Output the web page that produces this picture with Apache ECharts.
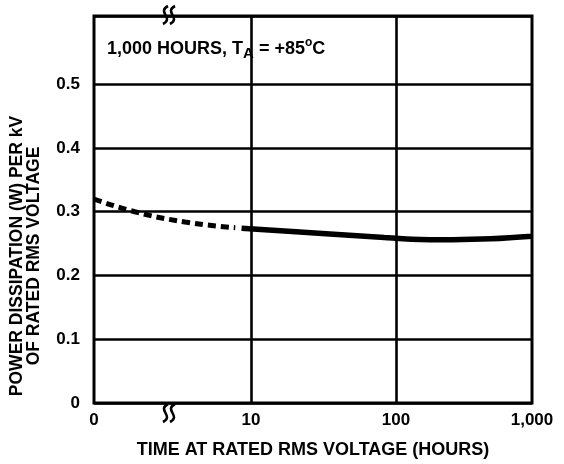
<!DOCTYPE html>
<html>
<head>
<meta charset="utf-8">
<script src="https://cdn.jsdelivr.net/npm/echarts@6/dist/echarts.min.js"></script>
<style>html,body{margin:0;padding:0;background:#fff}#c{width:564px;height:464px}</style>
</head>
<body>
<div id="c"></div>
<script>
// ---- data ----
var xTickHours = [0, 10, 100, 1000];
var xTickLabels = ['0', '10', '100', '1,000'];
var dashHours = [0, 2.6, 5.8, 9.0];
var dashValues = [0.320, 0.300, 0.284, 0.275];
var solidHours = [9.4, 31, 83, 130, 260, 500, 1000];
var solidValues = [0.274, 0.266, 0.2595, 0.257, 0.2562, 0.2575, 0.2615];

// broken axis: 0..10 h linear segment, then two log decades (widths as drawn)
var SEG = [1.117, 1.032, 0.968];
function pos(h) {
  if (h <= 10) return h / 10 * SEG[0];
  if (h <= 100) return SEG[0] + Math.log10(h / 10) * SEG[1];
  return SEG[0] + SEG[1] + Math.log10(h / 100) * SEG[2];
}
var xMax = pos(1000);
var tickPos = xTickHours.map(pos);

function pairs(hs, vs) { return hs.map(function (h, i) { return [pos(h), vs[i]]; }); }

var FONT = '"Liberation Sans", Arial, sans-serif';
var chart = echarts.init(document.getElementById('c'), null, {renderer: 'canvas'});

function squiggle(cx, cy) {
  var items = [];
  [-3.5, 3.5].forEach(function (dx) {
    var x = cx + dx;
    items.push({
      type: 'bezierCurve',
      shape: {x1: x + 2.5, y1: cy - 9, x2: x - 2.5, y2: cy + 9, cpx1: x - 9, cpy1: cy - 3, cpx2: x + 9, cpy2: cy + 3},
      style: {stroke: '#000', lineWidth: 2.6, fill: null},
      z: 100
    });
  });
  return items;
}

var K = '#000', NONE = 'rgba(0,0,0,0)';

var option = {
  backgroundColor: '#fff',
  animation: false,
  grid: {left: 94, right: 32, top: 16, bottom: 51.5, show: true, borderColor: '#000', borderWidth: 3},
  xAxis: {
    type: 'value', min: 0, max: xMax,
    axisLine: {show: false}, axisTick: {show: false}, splitLine: {show: false},
    axisLabel: {
      customValues: tickPos,
      formatter: function (v) {
        for (var i = 0; i < tickPos.length; i++) if (Math.abs(v - tickPos[i]) < 1e-6) return xTickLabels[i];
        return '';
      },
      color: '#000', fontFamily: FONT, fontWeight: 'bold', fontSize: 17, margin: 9,
      showMinLabel: true, showMaxLabel: true, hideOverlap: false
    },
    name: 'TIME AT RATED RMS VOLTAGE (HOURS)',
    nameLocation: 'middle', nameGap: 38,
    nameTextStyle: {color: '#000', fontFamily: FONT, fontWeight: 'bold', fontSize: 18}
  },
  yAxis: {
    type: 'value', min: 0, max: 0.607, interval: 0.1,
    axisLine: {show: false}, axisTick: {show: false},
    splitLine: {show: true, showMinLine: true, showMaxLine: true,
      lineStyle: {color: [K, K, K, K, K, K, NONE, K], width: 2.6}},
    axisLabel: {
      formatter: function (v) { if (v > 0.55) return ''; return v === 0 ? '0' : v.toFixed(1); },
      color: '#000', fontFamily: FONT, fontWeight: 'bold', fontSize: 17, margin: 14,
      padding: [8, 0, 0, 0], showMaxLabel: false
    }
  },
  series: [
    {
      type: 'line', data: pairs(dashHours, dashValues), symbol: 'none', smooth: true,
      lineStyle: {color: '#000', width: 5, type: [8, 5]}, z: 5
    },
    {
      type: 'line', data: pairs(solidHours, solidValues), symbol: 'none', smooth: 0.4,
      lineStyle: {color: '#000', width: 5.5}, z: 5,
      markLine: {
        silent: true, symbol: 'none', label: {show: false},
        lineStyle: {color: '#000', width: 2.6, type: 'solid'},
        data: [{xAxis: pos(10)}, {xAxis: pos(100)}]
      }
    }
  ],
  graphic: [
    {
      type: 'text', left: 107, top: 37, z: 100,
      style: {
        text: '{n|1,000 HOURS, T}{sub|A}{n| = +85}{sup|o}{n|C}',
        rich: {
          n: {fontFamily: FONT, fontWeight: 'bold', fontSize: 18, fill: '#000', lineHeight: 24, verticalAlign: 'middle'},
          sub: {fontFamily: FONT, fontWeight: 'bold', fontSize: 15, fill: '#000', lineHeight: 24, verticalAlign: 'bottom', padding: [9, 0, 0, 0]},
          sup: {fontFamily: FONT, fontWeight: 'bold', fontSize: 12, fill: '#000', lineHeight: 24, verticalAlign: 'top', padding: [0, 0, 6, 0]}
        }
      }
    },
    {
      type: 'text', x: 26, y: 256, rotation: Math.PI / 2, z: 100,
      style: {
        text: 'POWER DISSIPATION (W) PER kV\nOF RATED RMS VOLTAGE',
        fontFamily: FONT, fontWeight: 'bold', fontSize: 17.5, lineHeight: 17,
        fill: '#000', align: 'center', verticalAlign: 'middle'
      }
    }
  ].concat(squiggle(169, 15)).concat(squiggle(169, 413))
};
chart.setOption(option);
</script>
</body>
</html>
